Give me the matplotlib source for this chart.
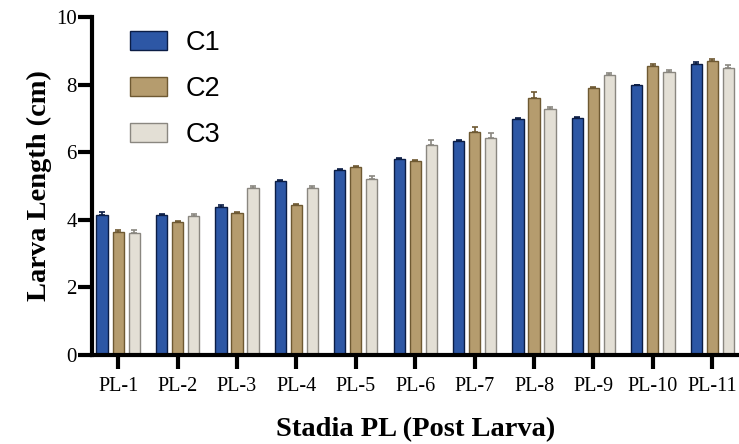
import numpy as np
from matplotlib import pyplot as plt
from matplotlib.ticker import MultipleLocator

stages = ["PL-1", "PL-2", "PL-3", "PL-4", "PL-5", "PL-6", "PL-7", "PL-8", "PL-9", "PL-10", "PL-11"]
c1 = [4.15, 4.14, 4.38, 5.14, 5.46, 5.80, 6.33, 6.98, 7.01, 7.98, 8.61]
c2 = [3.65, 3.94, 4.20, 4.43, 5.55, 5.74, 6.60, 7.60, 7.90, 8.55, 8.70]
c3 = [3.62, 4.12, 4.93, 4.95, 5.22, 6.20, 6.42, 7.28, 8.28, 8.37, 8.50]
c1_err = [0.07, 0.04, 0.06, 0.04, 0.03, 0.03, 0.04, 0.03, 0.02, 0.02, 0.05]
c2_err = [0.05, 0.03, 0.04, 0.03, 0.05, 0.04, 0.16, 0.18, 0.02, 0.06, 0.07]
c3_err = [0.07, 0.04, 0.08, 0.05, 0.08, 0.16, 0.14, 0.07, 0.07, 0.07, 0.09]

series = [
    ("C1", c1, c1_err, "#2D57A5", "#0B1D45"),
    ("C2", c2, c2_err, "#B59C6E", "#6E5932"),
    ("C3", c3, c3_err, "#E3DFD5", "#8A8780"),
]

fig = plt.figure(figsize=(7.39, 4.44), dpi=100)
ax = fig.add_axes([0.1245, 0.2005, 0.8755, 0.7612])

x = np.arange(len(stages))
offsets = [-0.27, 0.0, 0.27]
width = 0.19

for (name, vals, err, face, edge), off in zip(series, offsets):
    ax.bar(x + off, vals, width, color=face, edgecolor=edge, linewidth=1.0, label=name, zorder=2)
    ax.errorbar(x + off, vals, yerr=[np.zeros(len(vals)), err], fmt="none",
                ecolor=edge, elinewidth=1.2, capsize=2.5, capthick=1.2, zorder=1)

ax.set_xlim(-0.44, 10.45)
ax.set_ylim(0, 10)
ax.yaxis.set_major_locator(MultipleLocator(2))
ax.set_xticks(x)
ax.set_xticklabels(stages)

for side in ["top", "right"]:
    ax.spines[side].set_visible(False)
for side in ["left", "bottom"]:
    ax.spines[side].set_linewidth(3)

ax.tick_params(axis="y", length=10, width=3, labelsize=15, pad=1)
ax.tick_params(axis="x", length=10, width=3, labelsize=14.5, pad=6)
for lab in ax.get_xticklabels() + ax.get_yticklabels():
    lab.set_family("Liberation Serif")

ax.set_ylabel("Larva Length (cm)", family="Liberation Serif", fontweight="bold", fontsize=20.5, labelpad=3)
ax.set_xlabel("Stadia PL (Post Larva)", family="Liberation Serif", fontweight="bold", fontsize=20.5, labelpad=15)

ax.legend(loc="upper left", bbox_to_anchor=(0.058, 0.962), frameon=False,
          prop={"family": "Liberation Sans", "size": 19.5}, handlelength=1.37, handleheight=0.67,
          labelspacing=0.74, handletextpad=0.7, borderpad=0, borderaxespad=0)

fig.savefig("out.png", dpi=100)
